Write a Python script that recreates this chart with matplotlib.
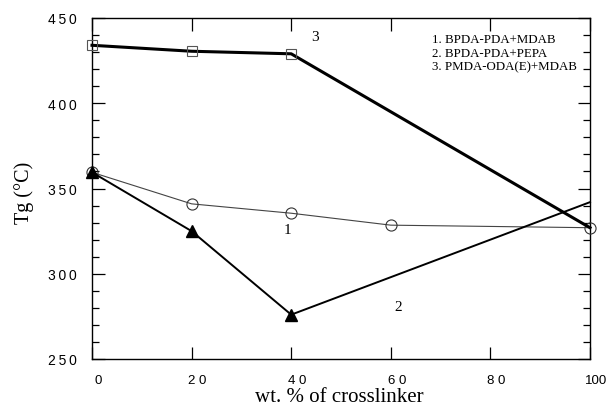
import matplotlib
matplotlib.use('Agg')
import matplotlib.pyplot as plt
import matplotlib.transforms as mtransforms
from matplotlib.ticker import MultipleLocator, FuncFormatter

# Tg vs crosslinker content for three polyimide systems
x_mdab = [0, 20, 40, 60, 100]
tg_mdab = [359.5, 341, 335.5, 328.5, 327]

x_pepa = [0, 20, 40, 100]
tg_pepa = [359.5, 325, 276, 342]

x_oda = [0, 20, 40, 100]
tg_oda = [434, 430.5, 429, 327]

legend_lines = ['1. BPDA-PDA+MDAB', '2. BPDA-PDA+PEPA', '3. PMDA-ODA(E)+MDAB']

serif = 'Liberation Serif'
sans = 'Liberation Sans'

fig = plt.figure(figsize=(6.12, 4.10), dpi=100)
ax = fig.add_axes([92 / 612, 50 / 410, 498 / 612, 341 / 410])

ax.plot(x_mdab, tg_mdab, color='#444444', lw=0.8, marker='o', markersize=8,
        markerfacecolor='none', markeredgecolor='#333333', markeredgewidth=0.8,
        clip_on=False, zorder=3)
ax.plot(x_pepa, tg_pepa, color='black', lw=1.4, marker='^', markersize=8,
        markevery=[0, 1, 2], clip_on=False, zorder=4)
ax.plot(x_oda, tg_oda, color='black', lw=2.2, zorder=3, clip_on=False)
ax.plot(x_oda[:3], tg_oda[:3], ls='none', marker='s', markersize=7,
        markerfacecolor='none', markeredgecolor='#555555', markeredgewidth=0.8,
        clip_on=False, zorder=5)

ax.set_xlim(0, 100)
ax.set_ylim(250, 450)

ax.xaxis.set_major_locator(MultipleLocator(20))
ax.yaxis.set_major_locator(MultipleLocator(50))
ax.yaxis.set_minor_locator(MultipleLocator(10))
ax.tick_params(which='both', direction='in', top=True, right=True, width=0.9)
ax.tick_params(which='major', length=9)
ax.tick_params(which='minor', length=5)
ax.tick_params(axis='y', pad=11, labelsize=10)
ax.tick_params(axis='x', pad=11, labelsize=9.5)

# digits drawn with gaps, as on the printed axes
spaced = FuncFormatter(lambda v, p: ' '.join(str(int(v))) if v != 100 else str(int(v)))
ax.xaxis.set_major_formatter(spaced)
ax.yaxis.set_major_formatter(FuncFormatter(lambda v, p: '\u2009'.join(str(int(v)))))
for lbl in ax.get_xticklabels() + ax.get_yticklabels():
    lbl.set_family(sans)
shift = mtransforms.ScaledTranslation(6 / 100, 0, fig.dpi_scale_trans)
for lbl in ax.get_xticklabels():
    lbl.set_transform(lbl.get_transform() + shift)

for sp in ax.spines.values():
    sp.set_linewidth(1.0)

fig.text(339 / 612, 1 - 398 / 410, 'wt. % of crosslinker', family=serif,
         fontsize=15, ha='center', va='center')
fig.text(24 / 612, 1 - 193 / 410, 'Tg (\u00b0C)', family=serif, fontsize=14.5,
         ha='center', va='center', rotation=90)

ax.text(44.8, 439, '3', family=serif, fontsize=11, ha='center', va='center')
ax.text(39.2, 326, '1', family=serif, fontsize=11, ha='center', va='center')
ax.text(61.4, 281, '2', family=serif, fontsize=11, ha='center', va='center')

ax.text(0.683, 0.955, '\n'.join(legend_lines), transform=ax.transAxes,
        family=serif, fontsize=9.3, va='top', ha='left', linespacing=1.18)

fig.savefig('out.png', dpi=100)
